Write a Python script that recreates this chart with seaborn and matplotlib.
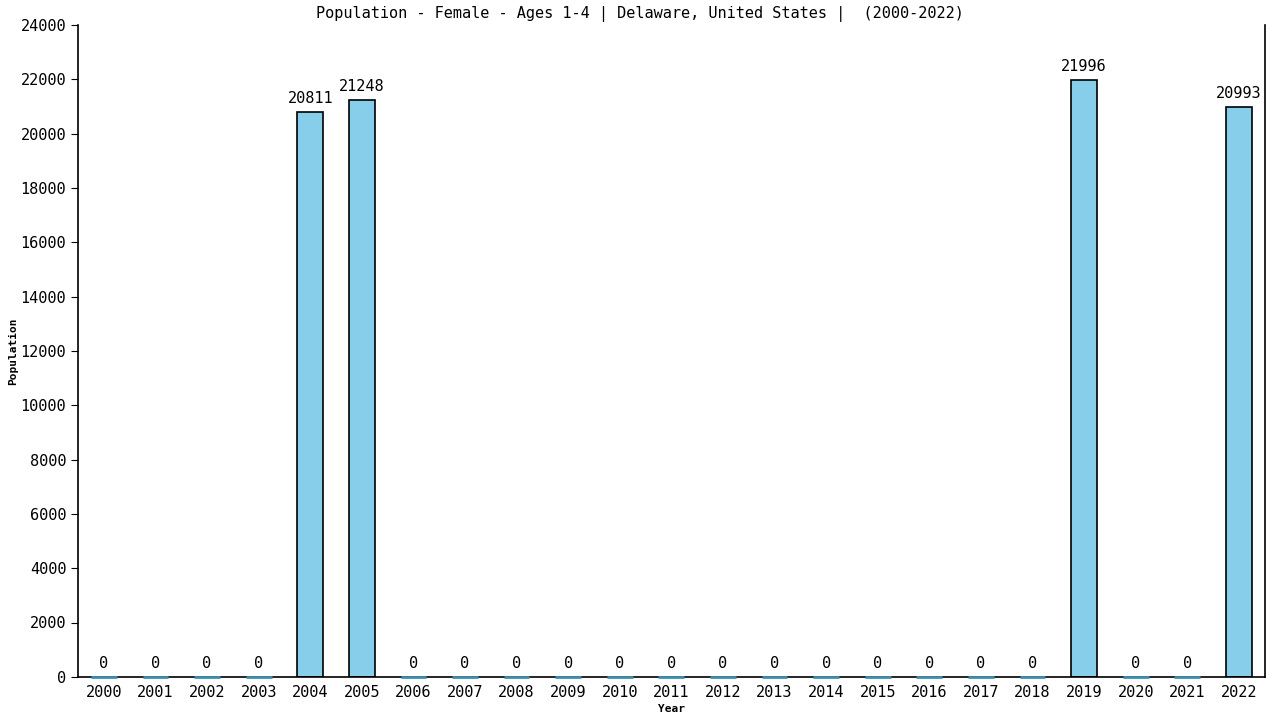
import matplotlib
matplotlib.use('Agg')
import matplotlib.pyplot as plt
import numpy as np
import pandas as pd
import seaborn as sns

# dados
years = [str(y) for y in range(2000, 2023)]
population = [0, 0, 0, 0, 20811, 21248, 0, 0, 0, 0, 0, 0, 0, 0, 0, 0, 0, 0, 0,
              21996, 0, 0, 20993]
yticks = list(range(0, 24001, 2000))

df = pd.DataFrame({'Year': years, 'Population': population})

sns.set_style('white')
plt.rcParams['font.family'] = ['DejaVu Sans Mono', 'DejaVu Sans']
plt.rcParams.update({'text.color': 'black', 'axes.labelcolor': 'black',
                     'xtick.color': 'black', 'ytick.color': 'black'})

fig = plt.figure(figsize=(12.8, 7.2), dpi=100)
ax = fig.add_axes([0.061, 0.06, 0.927, 0.905])

sns.barplot(data=df, x='Year', y='Population', color='#87ceeb', saturation=1,
            width=0.5, edgecolor='black', linewidth=1.2, ax=ax)

# barras com valor zero: linha azul fina por cima do eixo
for p, v in zip(ax.patches, population):
    if v == 0:
        p.set_edgecolor('#3d8fb0')
        p.set_linewidth(2)
        p.set_zorder(3)
        p.set_clip_on(False)

ax.bar_label(ax.containers[0], labels=[str(v) for v in population],
             padding=4, fontsize=11)

ax.set_xlim(-0.5, len(years) - 0.5)
ax.set_ylim(0, 24000)
ax.set_yticks(yticks)
ax.tick_params(axis='both', labelsize=11, length=5, color='black',
               direction='out', left=True, bottom=True)
ax.tick_params(axis='x', length=0, pad=6)

for s in ['left', 'bottom', 'right']:
    ax.spines[s].set_visible(True)
    ax.spines[s].set_color('black')
    ax.spines[s].set_linewidth(1.2)
ax.spines['top'].set_visible(False)

ax.set_xlabel('Year', fontsize=8, fontweight='bold', labelpad=3)
ax.set_ylabel('Population', fontsize=8, fontweight='bold', labelpad=2)
fig.suptitle('Population - Female - Ages 1-4 | Delaware, United States |  (2000-2022)',
             fontsize=11, x=0.5, y=0.992, va='top')

fig.savefig('out.png', dpi=100)
